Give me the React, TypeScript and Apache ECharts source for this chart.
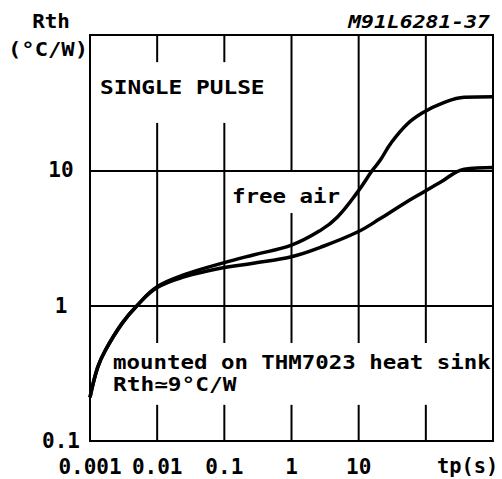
import React, { useEffect, useRef } from 'react';
import * as echarts from 'echarts';

// Tick labels (one per decade, blank where the original shows none)
const xTickLabels = ['0.001', '0.01', '0.1', '1', '10', '', ''];
const yTickLabels = ['0.1', '1', '10', ''];

// Free air curve: pulse duration tp (s) and Rth (°C/W)
const timeFreeAir = [0.001, 0.0013, 0.0017, 0.003, 0.005, 0.01, 0.026, 0.1, 0.27, 1, 2.7, 4.8, 9.6, 16, 21, 30, 53, 94, 167, 373, 1000];
const rthFreeAir = [0.21, 0.35, 0.47, 0.74, 1.0, 1.38, 1.7, 2.08, 2.37, 2.8, 3.6, 4.5, 6.9, 10, 11.9, 15.8, 22, 27, 31, 34.7, 35];

// Mounted on THM7023 heat sink curve
const timeHeatSink = [0.001, 0.0013, 0.0017, 0.003, 0.005, 0.01, 0.026, 0.087, 0.27, 1, 2.7, 9.6, 21, 45, 94, 167, 373, 1000];
const rthHeatSink = [0.21, 0.35, 0.47, 0.74, 1.0, 1.36, 1.64, 1.89, 2.06, 2.3, 2.7, 3.5, 4.4, 5.6, 6.95, 8.2, 10.2, 10.5];

// Vertical grid lines with the breaks left for the annotations
const vGridLines = [
  { x: 0.01, spans: [[100, 63], [22.4, 0.53], [0.185, 0.1]] },
  { x: 0.1, spans: [[100, 63], [22.4, 0.53], [0.185, 0.1]] },
  { x: 1, spans: [[100, 10], [4.84, 0.53], [0.185, 0.1]] },
  { x: 10, spans: [[100, 0.53], [0.185, 0.1]] },
  { x: 100, spans: [[100, 0.53], [0.185, 0.1]] },
];

const FAMILY = '"DejaVu Sans Mono", "Liberation Mono", monospace';

export default function App() {
  const ref = useRef<HTMLDivElement>(null);

  useEffect(() => {
    const chart = echarts.init(ref.current!, null, { renderer: 'svg' });

    const gridSeries: any[] = [];
    vGridLines.forEach((g) => {
      g.spans.forEach(([a, b]) => {
        gridSeries.push({
          type: 'line',
          silent: true,
          symbol: 'none',
          lineStyle: { color: '#000', width: 2 },
          data: [[g.x, a], [g.x, b]],
          z: 1,
          tooltip: { show: false },
        });
      });
    });

    const txt = (text: string, x: number, y: number, align: string, size: number, scaleX: number, italic = false) => ({
      type: 'text',
      x,
      y,
      scaleX,
      silent: true,
      style: {
        text,
        fill: '#000',
        font: `${italic ? 'italic ' : ''}bold ${size}px ${FAMILY}`,
        textAlign: align,
        textVerticalAlign: 'middle',
      },
    });

    chart.setOption({
      animation: false,
      backgroundColor: '#fff',
      grid: {
        left: 90,
        right: 9,
        top: 35,
        bottom: 38,
        show: true,
        borderColor: '#000',
        borderWidth: 2,
        backgroundColor: 'transparent',
      },
      xAxis: {
        type: 'log',
        logBase: 10,
        min: 0.001,
        max: 1000,
        splitNumber: 6,
        axisLine: { show: false },
        axisTick: { show: false },
        splitLine: { show: false },
        axisLabel: {
          margin: 15,
          color: '#000',
          fontFamily: FAMILY,
          fontWeight: 'bold',
          fontSize: 21,
          showMinLabel: true,
          showMaxLabel: true,
          formatter: (v: number) => xTickLabels[Math.round(Math.log10(v)) + 3] ?? '',
        },
      },
      yAxis: {
        type: 'log',
        logBase: 10,
        min: 0.1,
        max: 100,
        splitNumber: 3,
        axisLine: { show: false },
        axisTick: { show: false },
        splitLine: { show: true, lineStyle: { color: '#000', width: 2 } },
        axisLabel: {
          margin: 29,
          align: 'center',
          color: '#000',
          fontFamily: FAMILY,
          fontWeight: 'bold',
          fontSize: 21,
          showMinLabel: true,
          showMaxLabel: true,
          formatter: (v: number) => yTickLabels[Math.round(Math.log10(v)) + 1] ?? '',
        },
      },
      series: [
        ...gridSeries,
        {
          name: 'free air',
          type: 'line',
          smooth: 0.4,
          symbol: 'none',
          lineStyle: { color: '#000', width: 3.5 },
          data: timeFreeAir.map((t, i) => [t, rthFreeAir[i]]),
          z: 3,
        },
        {
          name: 'heat sink',
          type: 'line',
          smooth: 0.4,
          symbol: 'none',
          lineStyle: { color: '#000', width: 3.5 },
          data: timeHeatSink.map((t, i) => [t, rthHeatSink[i]]),
          z: 3,
        },
      ],
      graphic: [
        txt('Rth', 51, 21, 'center', 19, 1.1),
        txt('(°C/W)', 48, 50, 'center', 19, 1.17),
        txt('M91L6281-37', 490, 22, 'right', 17, 1.26, true),
        txt('SINGLE PULSE', 100, 88, 'left', 19, 1.2),
        txt('free air', 232, 197, 'left', 19, 1.18),
        txt('mounted on THM7023 heat sink', 113, 363, 'left', 19, 1.18),
        txt('Rth≃9°C/W', 113, 385, 'left', 19, 1.2),
        txt('tp(s)', 437, 466, 'left', 21, 0.97),
      ],
    });

    return () => chart.dispose();
  }, []);

  return (
    <div
      ref={ref}
      style={{ position: 'fixed', left: 0, top: 0, width: 502, height: 479, background: '#fff' }}
    />
  );
}
